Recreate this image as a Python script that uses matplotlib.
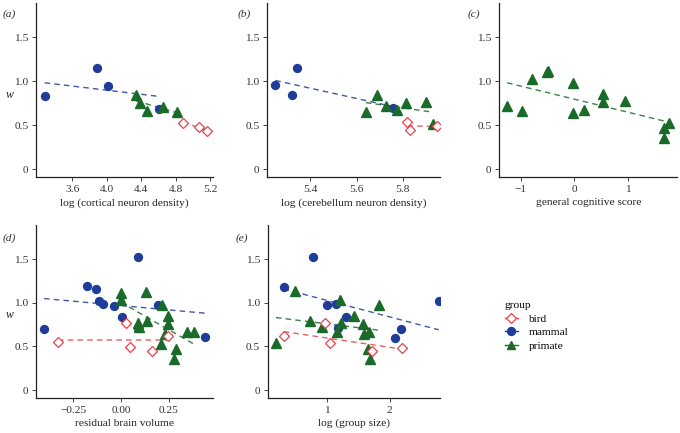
import numpy as np
import matplotlib
matplotlib.use("Agg")
import matplotlib.pyplot as plt
from matplotlib.lines import Line2D

plt.rcParams['font.family'] = ['Liberation Serif', 'DejaVu Serif']

# colours / styles per group
colors = {'bird': '#e8404a', 'mammal': '#1f3c99', 'primate': '#1a6b2a'}
markers = {'bird': 'D', 'mammal': 'o', 'primate': '^'}

# ---- data ----
# (a) log (cortical neuron density)
a_mammal_x = [3.28, 3.886, 4.01, 4.605]
a_mammal_y = [0.83, 1.15, 0.95, 0.69]
a_primate_x = [4.34, 4.39, 4.47, 4.65, 4.82]
a_primate_y = [0.84, 0.75, 0.66, 0.71, 0.65]
a_bird_x = [4.88, 5.07, 5.16]
a_bird_y = [0.53, 0.48, 0.44]

# (b) log (cerebellum neuron density)
b_mammal_x = [5.249, 5.321, 5.343, 5.757]
b_mammal_y = [0.955, 0.84, 1.156, 0.693]
b_primate_x = [5.64, 5.69, 5.729, 5.773, 5.814, 5.898, 5.931]
b_primate_y = [0.656, 0.845, 0.72, 0.67, 0.753, 0.765, 0.519]
b_bird_x = [5.819, 5.829, 5.948]
b_bird_y = [0.54, 0.443, 0.489]

# (c) general cognitive score (primates only)
c_primate_x = [-1.25, -0.97, -0.78, -0.50, -0.48, -0.01, -0.01, 0.19, 0.55, 0.55, 0.95, 1.68, 1.68, 1.77]
c_primate_y = [0.72, 0.665, 1.03, 1.10, 1.12, 0.98, 0.64, 0.67, 0.85, 0.76, 0.77, 0.47, 0.36, 0.53]

# (d) residual brain volume
d_mammal_x = [-0.403, -0.176, -0.132, -0.115, -0.097, -0.037, 0.005, 0.086, 0.086, 0.194, 0.44]
d_mammal_y = [0.70, 1.19, 1.16, 1.02, 0.99, 0.96, 0.84, 1.53, 0.71, 0.98, 0.605]
d_primate_x = [0.002, -0.003, 0.089, 0.094, 0.136, 0.128, 0.215, 0.246, 0.246, 0.232, 0.208, 0.287, 0.277, 0.343, 0.383]
d_primate_y = [1.107, 1.027, 0.763, 0.718, 0.79, 1.126, 0.98, 0.85, 0.755, 0.64, 0.53, 0.47, 0.36, 0.66, 0.67]
d_bird_x = [-0.33, 0.028, 0.049, 0.162, 0.246]
d_bird_y = [0.548, 0.763, 0.49, 0.453, 0.616]

# (e) log (group size)
e_mammal_x = [0.297, 0.773, 1.0, 1.146, 1.297, 1.178, 2.08, 2.18, 2.79]
e_mammal_y = [1.186, 1.525, 0.978, 0.985, 0.838, 0.71, 0.60, 0.699, 1.016]
e_primate_x = [0.173, 0.475, 0.718, 0.919, 1.151, 1.2, 1.216, 1.42, 1.567, 1.583, 1.664, 1.648, 1.686, 1.836]
e_primate_y = [0.537, 1.13, 0.786, 0.718, 0.66, 1.027, 0.763, 0.85, 0.755, 0.642, 0.66, 0.472, 0.359, 0.974]
e_bird_x = [0.297, 0.957, 1.037, 1.713, 2.2]
e_bird_y = [0.616, 0.763, 0.537, 0.45, 0.487]

panels = [
    dict(tag='a', xlabel='log (cortical neuron density)', xlim=(3.18, 5.23),
         xticks=[3.6, 4.0, 4.4, 4.8, 5.2], xtl=['3.6', '4.0', '4.4', '4.8', '5.2'],
         groups=[('mammal', a_mammal_x, a_mammal_y), ('primate', a_primate_x, a_primate_y),
                 ('bird', a_bird_x, a_bird_y)],
         pos=[0.053, 0.591, 0.260, 0.402], lab=(0.004, 0.968), w=(0.008, 0.78)),
    dict(tag='b', xlabel='log (cerebellum neuron density)', xlim=(5.214, 5.96),
         xticks=[5.4, 5.6, 5.8], xtl=['5.4', '5.6', '5.8'],
         groups=[('mammal', b_mammal_x, b_mammal_y), ('primate', b_primate_x, b_primate_y),
                 ('bird', b_bird_x, b_bird_y)],
         pos=[0.393, 0.591, 0.254, 0.402], lab=(0.350, 0.968), w=None),
    dict(tag='c', xlabel='general cognitive score', xlim=(-1.40, 1.93),
         xticks=[-1, 0, 1], xtl=['\u22121', '0', '1'],
         groups=[('primate', c_primate_x, c_primate_y)],
         pos=[0.734, 0.591, 0.262, 0.402], lab=(0.687, 0.968), w=None),
    dict(tag='d', xlabel='residual brain volume', xlim=(-0.445, 0.48),
         xticks=[-0.25, 0.0, 0.25], xtl=['\u22120.25', '0.00', '0.25'],
         groups=[('mammal', d_mammal_x, d_mammal_y), ('primate', d_primate_x, d_primate_y),
                 ('bird', d_bird_x, d_bird_y)],
         pos=[0.053, 0.081, 0.260, 0.399], lab=(0.004, 0.450), w=(0.008, 0.273)),
    dict(tag='e', xlabel='log (group size)', xlim=(0.044, 2.81),
         xticks=[1, 2], xtl=['1', '2'],
         groups=[('mammal', e_mammal_x, e_mammal_y), ('primate', e_primate_x, e_primate_y),
                 ('bird', e_bird_x, e_bird_y)],
         pos=[0.394, 0.081, 0.253, 0.399], lab=(0.346, 0.450), w=None),
]

fig = plt.figure(figsize=(6.8, 4.33), dpi=100)

for p in panels:
    ax = fig.add_axes(p['pos'])
    for g, xs, ys in p['groups']:
        xs = np.array(xs); ys = np.array(ys)
        # linear fit per group, drawn over the group's x range
        k, b0 = np.polyfit(xs, ys, 1)
        lx = np.array([xs.min(), xs.max()])
        ax.plot(lx, k * lx + b0, ls=(0, (4, 3)), lw=1.0, color=colors[g], alpha=0.85, zorder=2)
        if g == 'bird':
            ax.plot(xs, ys, ls='none', marker='D', ms=5.5, mfc='white', mec=colors[g],
                    mew=0.9, zorder=3)
        else:
            ax.plot(xs, ys, ls='none', marker=markers[g], ms=6.5 if g == 'primate' else 5.7,
                    color=colors[g], mec=colors[g], zorder=3)
    ax.set_xlim(*p['xlim'])
    ax.set_ylim(-0.09, 1.89)
    ax.set_yticks([0, 0.5, 1.0, 1.5])
    ax.set_yticklabels(['0', '0.5', '1.0', '1.5'])
    ax.set_xticks(p['xticks'])
    ax.set_xticklabels(p['xtl'])
    ax.set_xlabel(p['xlabel'], fontsize=8.2, color='#222222', labelpad=3)
    for s in ['top', 'right']:
        ax.spines[s].set_visible(False)
    for s in ['left', 'bottom']:
        ax.spines[s].set_linewidth(0.9)
        ax.spines[s].set_color('#222222')
    ax.tick_params(length=3, width=0.7, colors='#444444', labelsize=8.2, labelcolor='#333333', pad=2.5)
    # panel label "(a)" etc.
    fig.text(p['lab'][0], p['lab'][1], '(' + p['tag'] + ')', fontsize=8.2, style='italic',
             ha='left', va='center', color='#333333')
    if p['w'] is not None:
        fig.text(p['w'][0], p['w'][1], 'w', fontsize=8.5, style='italic',
                 ha='left', va='center', color='#222222')

# legend
handles = []
for g in ['bird', 'mammal', 'primate']:
    if g == 'bird':
        h = Line2D([], [], color=colors[g], lw=1, marker='D', ms=5.3, mfc='white', mec=colors[g], mew=0.9)
    else:
        h = Line2D([], [], color=colors[g], lw=1, marker=markers[g], ms=5.7, mec=colors[g])
    handles.append(h)
leg = fig.legend(handles, ['bird', 'mammal', 'primate'], title='group',
                 loc='upper left', bbox_to_anchor=(0.742, 0.305), frameon=False,
                 fontsize=8.2, title_fontsize=8.2, handlelength=1.2, handletextpad=0.9,
                 labelspacing=0.33, borderaxespad=0, borderpad=0)
leg._legend_box.align = 'left'

fig.savefig('out.png', dpi=100)
